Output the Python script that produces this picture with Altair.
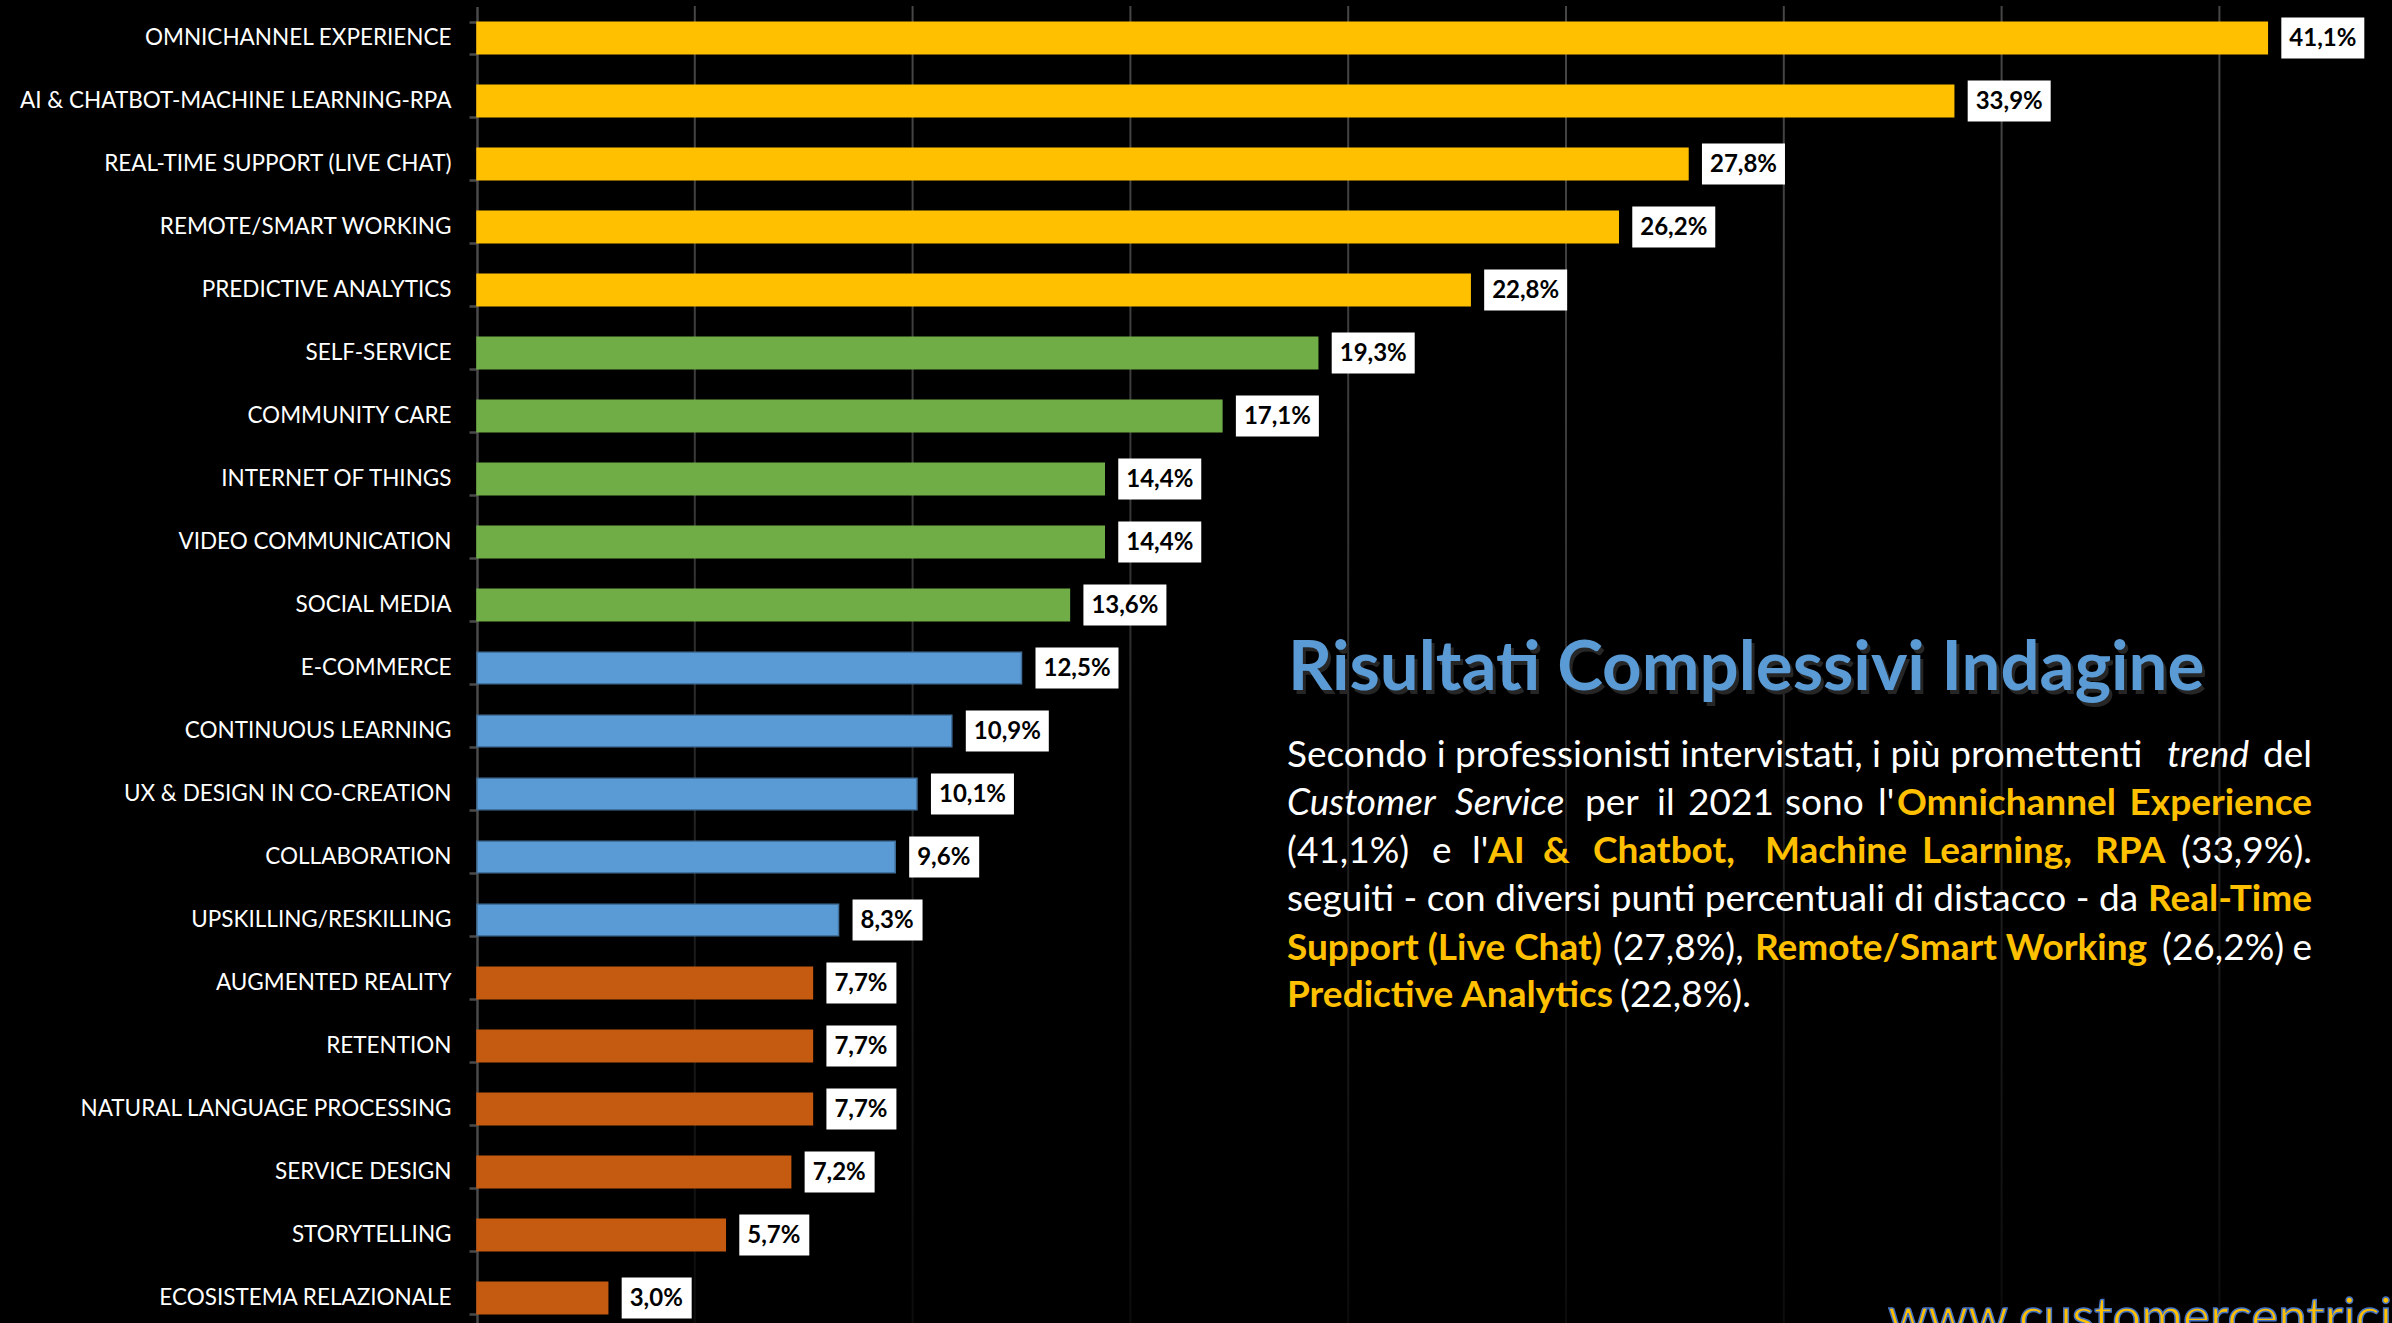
import altair as alt
import pandas as pd

# ---------------- data ----------------
categories = [
    "OMNICHANNEL EXPERIENCE", "AI & CHATBOT-MACHINE LEARNING-RPA",
    "REAL-TIME SUPPORT (LIVE CHAT)", "REMOTE/SMART WORKING",
    "PREDICTIVE ANALYTICS", "SELF-SERVICE", "COMMUNITY CARE",
    "INTERNET OF THINGS", "VIDEO COMMUNICATION", "SOCIAL MEDIA",
    "E-COMMERCE", "CONTINUOUS LEARNING", "UX & DESIGN IN CO-CREATION",
    "COLLABORATION", "UPSKILLING/RESKILLING", "AUGMENTED REALITY",
    "RETENTION", "NATURAL LANGUAGE PROCESSING", "SERVICE DESIGN",
    "STORYTELLING", "ECOSISTEMA RELAZIONALE",
]
values = [41.1, 33.9, 27.8, 26.2, 22.8, 19.3, 17.1, 14.4, 14.4, 13.6,
          12.5, 10.9, 10.1, 9.6, 8.3, 7.7, 7.7, 7.7, 7.2, 5.7, 3.0]
tiers = ["A"] * 5 + ["B"] * 5 + ["C"] * 5 + ["D"] * 6
tier_names = ["A", "B", "C", "D"]
tier_colors = ["#FFC000", "#70AD47", "#5B9BD5", "#C55A11"]
tier_edges = ["#FFC000", "#70AD47", "#41719C", "#C55A11"]
grid_values = [5, 10, 15, 20, 25, 30, 35, 40]

df = pd.DataFrame({
    "cat": categories,
    "val": values,
    "tier": tiers,
    "label": [f"{v:.1f}".replace(".", ",") + "%" for v in values],
})

# ---------------- layout ----------------
OX, OY = 477, 6                     # plot-area origin in the page
W, H = 2392 - OX, 1323 - OY
PX_PER_PCT = 43.56
XMAX = W / PX_PER_PCT

FONT = "Lato"
YELLOW = "#FFC000"
BLUE = "#5B9BD5"
AXC = "#4a4a4a"

x_scale = alt.Scale(domain=[0, XMAX], nice=False, zero=True)
y_scale = alt.Scale(domain=categories, range=[0.4, 1323.4],
                    paddingInner=0.5, paddingOuter=0.25)
y_axis = alt.Axis(labelColor="white", labelFont=FONT,
                  labelFontSize=22.5, labelPadding=18,
                  labelLimit=700, tickBand="extent",
                  tickSize=8, tickColor=AXC, tickWidth=2.5,
                  domainColor=AXC, domainWidth=2.5, grid=False)
Y = alt.Y("cat:N", sort=categories, scale=y_scale, title=None, axis=y_axis)
X = alt.X("val:Q", scale=x_scale, axis=None)

one = pd.DataFrame({"a": [0]})

# fading grid lines
grad = alt.LinearGradient(
    gradient="linear", x1=0, y1=0, x2=0, y2=1,
    stops=[alt.GradientStop(color="#464646", offset=0),
           alt.GradientStop(color="#3a3a3a", offset=0.35),
           alt.GradientStop(color="#1c1c1c", offset=0.7),
           alt.GradientStop(color="#0c0c0c", offset=1)])
grid = alt.Chart(pd.DataFrame({"g": grid_values})).mark_rect(
    color=grad, xOffset=-1, x2Offset=1
).encode(
    x=alt.X("g:Q", scale=x_scale, axis=None),
    x2="g:Q",
)

bars = alt.Chart(df).mark_bar(strokeWidth=1.5).encode(
    x=X, y=Y,
    color=alt.Color("tier:N", scale=alt.Scale(domain=tier_names,
                                              range=tier_colors),
                    legend=None),
    stroke=alt.Stroke("tier:N", scale=alt.Scale(domain=tier_names,
                                                range=tier_edges),
                      legend=None),
)

def boxes(n_chars, w):
    return alt.Chart(df).transform_filter(
        f"length(datum.label) == {n_chars}"
    ).mark_bar(color="white", height=41, xOffset=14, x2Offset=14 + w).encode(
        x=X, x2="val:Q", y=Y,
    )

labels = alt.Chart(df).mark_text(
    align="left", baseline="middle", dx=22, dy=1,
    font=FONT, fontSize=24, fontWeight="bold", color="black"
).encode(x=X, y=Y, text="label:N")

# ---------------- annotation text ----------------
BODY = 37

def txt(s, x, y, size=BODY, weight="normal", style="normal",
        color="white", align="left", **kw):
    return alt.Chart(one).mark_text(
        text=s, align=align, baseline="alphabetic", font=FONT,
        fontSize=size, fontWeight=weight, fontStyle=style, color=color, **kw
    ).encode(x=alt.value(x - OX), y=alt.value(y - OY))

R = dict()
I = dict(style="italic")
B = dict(weight="bold", color=YELLOW)
RIGHT = 2312

segments = [
    # line 1
    ("Secondo i professionisti intervistati, i più promettenti", 1287, 767, R, "left"),
    ("trend", 2167, 767, I, "left"),
    ("del", RIGHT, 767, R, "right"),
    # line 2
    ("Customer", 1287, 815, I, "left"),
    ("Service", 1455, 815, I, "left"),
    ("per", 1585, 815, R, "left"),
    ("il", 1657, 815, R, "left"),
    ("2021", 1688, 815, R, "left"),
    ("sono", 1785, 815, R, "left"),
    ("l'", 1878, 815, R, "left"),
    ("Omnichannel", 1897, 815, B, "left"),
    ("Experience", RIGHT, 815, B, "right"),
    # line 3
    ("(41,1%)", 1287, 863, R, "left"),
    ("e", 1432, 863, R, "left"),
    ("l'", 1472, 863, R, "left"),
    ("AI", 1488, 863, B, "left"),
    ("&", 1543, 863, B, "left"),
    ("Chatbot,", 1593, 863, B, "left"),
    ("Machine", 1765, 863, B, "left"),
    ("Learning,", 1922, 863, B, "left"),
    ("RPA", 2095, 863, B, "left"),
    ("(33,9%).", RIGHT, 863, R, "right"),
    # line 4
    ("seguiti - con diversi punti percentuali di distacco - da", 1287, 911, R, "left"),
    ("Real-Time", RIGHT, 911, B, "right"),
    # line 5
    ("Support (Live Chat)", 1287, 960, B, "left"),
    ("(27,8%),", 1613, 960, R, "left"),
    ("Remote/Smart Working", 1755, 960, B, "left"),
    ("(26,2%)", 2162, 960, R, "left"),
    ("e", RIGHT, 960, R, "right"),
    # line 6
    ("Predictive Analytics", 1287, 1007, B, "left"),
    ("(22,8%).", 1620, 1007, R, "left"),
]

notes = [txt(s, x, y, align=a, **st) for (s, x, y, st, a) in segments]

title_shadow = txt("Risultati Complessivi Indagine", 1291, 694, size=69,
                   weight="bold", color="#262626")
title = txt("Risultati Complessivi Indagine", 1288, 690, size=69,
            weight="bold", color=BLUE)
url = txt("www.customercentricity.it", 1888, 1334, size=51, color=YELLOW,
          stroke="#4472C4", strokeWidth=1.5)

chart = alt.layer(
    grid, bars, boxes(5, 83), boxes(4, 70), labels,
    title_shadow, title, *notes, url,
).properties(
    width=W, height=H, background="black",
    padding={"left": OX, "top": OY, "right": 0, "bottom": 0},
    autosize=alt.AutoSizeParams(type="none"),
).configure_view(stroke=None)

chart.save("out.html", embed_options={"renderer": "svg", "actions": False})
